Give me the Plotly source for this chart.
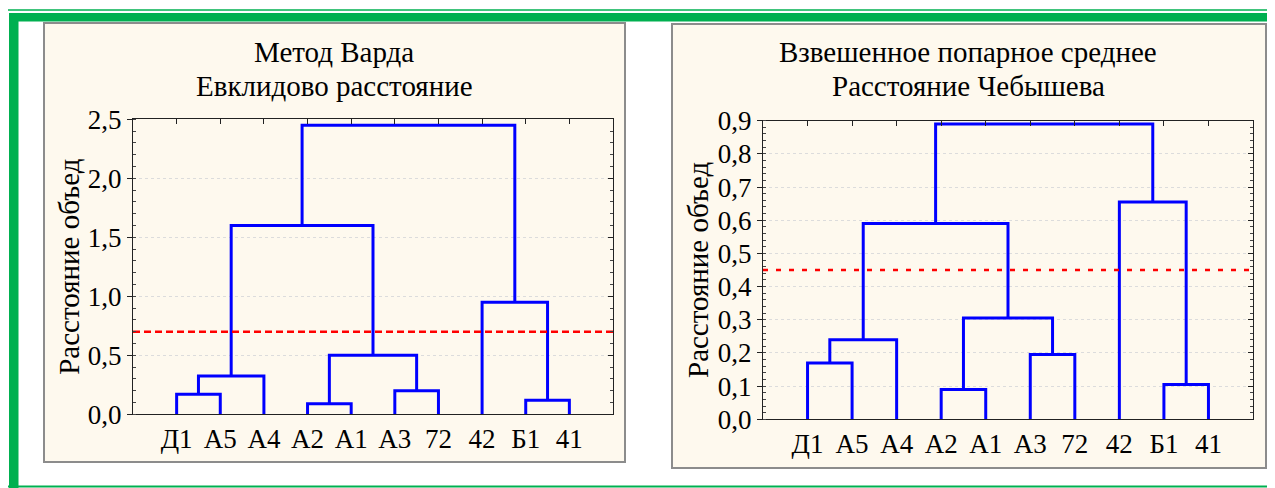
import plotly.graph_objects as go

W, H = 1275, 488
OFF = 8  # page body margin offset of the rendered figure

leaves = ["Д1", "А5", "А4", "А2", "А1", "А3", "72", "42", "Б1", "41"]

# merges: (left child, right child); children: leaf index (int) or ("m", k)
topology = [
    (0, 1),                  # m0: Д1 + А5
    (("m", 0), 2),           # m1: m0 + А4
    (3, 4),                  # m2: А2 + А1
    (5, 6),                  # m3: А3 + 72
    (("m", 2), ("m", 3)),    # m4
    (("m", 1), ("m", 4)),    # m5
    (8, 9),                  # m6: Б1 + 41
    (7, ("m", 6)),           # m7: 42 + m6
    (("m", 5), ("m", 7)),    # m8
]

ward_heights = [0.17, 0.325, 0.09, 0.20, 0.50, 1.60, 0.12, 0.95, 2.45]
cheb_heights = [0.17, 0.24, 0.09, 0.195, 0.305, 0.59, 0.105, 0.655, 0.89]

ward_cut = 0.70
cheb_cut = 0.45

titles = [["Метод Варда", "Евклидово расстояние"],
          ["Взвешенное попарное среднее", "Расстояние Чебышева"]]
ytitle = "Расстояние объед"

FONT = "Liberation Serif"
BLUE = "#0000FF"
RED = "#FF0000"
GREEN = "#00B050"
PANEL = "#FEF9EE"


def dendro_xy(heights):
    pos = {}
    xs, ys = [], []

    def node(c):
        if isinstance(c, tuple):
            return pos[c[1]]
        return (c + 1, 0.0)

    for k, ((a, b), h) in enumerate(zip(topology, heights)):
        xa, ha = node(a)
        xb, hb = node(b)
        xs += [xa, xa, xb, xb, None]
        ys += [ha, h, h, hb, None]
        pos[k] = ((xa + xb) / 2, h)
    return xs, ys


def px(x):
    return (x - OFF) / W


def py(y):
    return 1 - (y - OFF) / H


fig = go.Figure()

panels = [
    dict(plot=(133, 613, 119.3, 414.3), yr=2.5, dt=0.5, mdt=0.1, heights=ward_heights,
         cut=ward_cut, dash="7px,4px", panel=(44, 625, 23, 462), tcx=334, ytx=69),
    dict(plot=(763, 1253, 120.7, 419.3), yr=0.9, dt=0.1, mdt=0.02, heights=cheb_heights,
         cut=cheb_cut, dash="5px,8px", panel=(672, 1266, 24, 468), tcx=968, ytx=698),
]

shapes = []
annotations = []
# green frame
shapes.append(dict(type="line", xref="paper", yref="paper", x0=px(8), x1=px(1290), y0=py(10), y1=py(10),
                   line=dict(color=GREEN, width=1.5), layer="below"))
shapes.append(dict(type="line", xref="paper", yref="paper", x0=px(1273), x1=px(1273), y0=py(10), y1=py(490),
                   line=dict(color=GREEN, width=1.5), layer="below"))
shapes.append(dict(type="line", xref="paper", yref="paper", x0=px(8), x1=px(1273), y0=py(486.5), y1=py(486.5),
                   line=dict(color=GREEN, width=2), layer="below"))
shapes.append(dict(type="rect", xref="paper", yref="paper", x0=px(9), x1=px(1290), y0=py(21.5), y1=py(13),
                   fillcolor=GREEN, line=dict(width=0), layer="below"))
shapes.append(dict(type="rect", xref="paper", yref="paper", x0=px(9), x1=px(18.5), y0=py(490), y1=py(13),
                   fillcolor=GREEN, line=dict(width=0), layer="below"))

for i, p in enumerate(panels):
    n = i + 1
    xa = "x" if n == 1 else f"x{n}"
    ya = "y" if n == 1 else f"y{n}"
    ox, oy = f"x{n+2}", f"y{n+2}"
    x0, x1, yt, yb = p["plot"]
    dom_x = [px(x0), px(x1)]
    dom_y = [py(yb), py(yt)]
    lx0, lx1, ly0, ly1 = p["panel"]
    shapes.append(dict(type="rect", xref="paper", yref="paper", x0=px(lx0), x1=px(lx1), y0=py(ly1), y1=py(ly0),
                       fillcolor=PANEL, line=dict(color="#8C8C8C", width=2), layer="below"))

    xs, ys = dendro_xy(p["heights"])
    fig.add_trace(go.Scatter(x=xs, y=ys, mode="lines", line=dict(color=BLUE, width=3),
                             xaxis=xa, yaxis=ya, showlegend=False, hoverinfo="skip"))
    fig.add_trace(go.Scatter(x=[0, len(leaves) + 1], y=[p["cut"], p["cut"]], mode="lines",
                             line=dict(color=RED, width=2.5, dash=p["dash"]),
                             xaxis=ox, yaxis=oy, showlegend=False, hoverinfo="skip"))

    common_x = dict(range=[0, len(leaves) + 1], tickvals=list(range(1, len(leaves) + 1)),
                    showgrid=False, zeroline=False, automargin=False)
    common_y = dict(range=[0, p["yr"]], dtick=p["dt"], tick0=0, zeroline=False, automargin=False)
    fig.layout[f"xaxis{n if n > 1 else ''}"] = dict(
        **common_x, domain=dom_x, anchor=ya, ticktext=leaves, ticks="", ticklen=0,
        showline=True, mirror=True, linecolor="#222", linewidth=1.2,
        tickfont=dict(family=FONT, size=27, color="black"), ticklabelstandoff=0)
    fig.layout[f"yaxis{n if n > 1 else ''}"] = dict(
        **common_y, domain=dom_y, anchor=xa, tickformat=".1f",
        ticks="outside", ticklen=5, tickcolor="#222",
        minor=dict(ticks="inside", ticklen=3, dtick=p["mdt"], tickcolor="#444", showgrid=False),
        showgrid=True, gridcolor="#DCDCDC", griddash="dot", gridwidth=1,
        showline=True, mirror=True, linecolor="#222", linewidth=1.2,
        tickfont=dict(family=FONT, size=27, color="black"))
    fig.layout[f"xaxis{n+2}"] = dict(
        **common_x, overlaying=xa, anchor=oy, side="top", ticks="inside", ticklen=5,
        tickcolor="#222", showticklabels=False, showline=False)
    fig.layout[f"yaxis{n+2}"] = dict(
        **common_y, overlaying=ya, anchor=ox, side="right", ticks="inside", ticklen=5,
        tickcolor="#222", showticklabels=False, showline=False, showgrid=False,
        minor=dict(ticks="inside", ticklen=3, dtick=p["mdt"], tickcolor="#444", showgrid=False))

    for j, t in enumerate(titles[i]):
        annotations.append(dict(text=t, xref="paper", yref="paper", x=px(p["tcx"]),
                                y=py([52, 85.5][j]), showarrow=False, xanchor="center", yanchor="middle",
                                font=dict(family=FONT, size=29, color="black")))
    annotations.append(dict(text=ytitle, xref="paper", yref="paper", x=px(p["ytx"]),
                            y=py((yt + yb) / 2), showarrow=False, textangle=-90,
                            xanchor="center", yanchor="middle",
                            font=dict(family=FONT, size=29, color="black")))

fig.update_layout(width=W, height=H, margin=dict(l=0, r=0, t=0, b=0),
                  paper_bgcolor="white", plot_bgcolor="white", separators=", ",
                  shapes=shapes, annotations=annotations, showlegend=False)

fig.write_html("out.html")
